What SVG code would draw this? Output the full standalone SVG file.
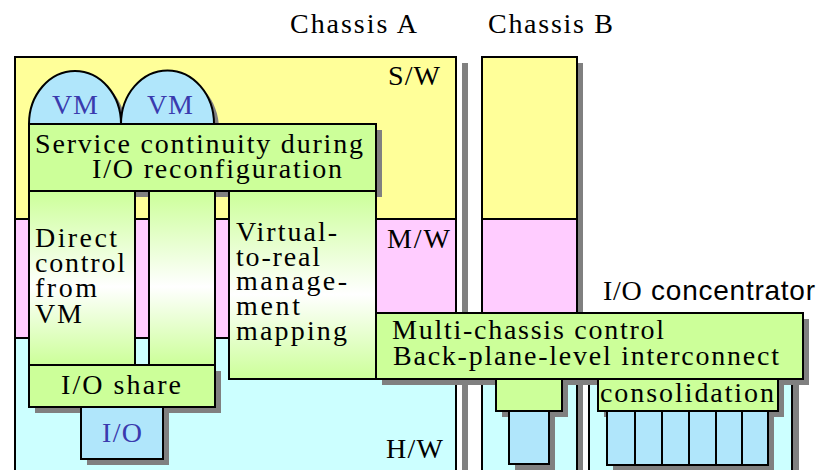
<svg xmlns="http://www.w3.org/2000/svg" width="816" height="470" viewBox="0 0 816 470">
<defs>
<linearGradient id="colg" x1="0" y1="0" x2="0" y2="1">
<stop offset="0" stop-color="#CCFF99"/>
<stop offset="0.55" stop-color="#FFFFFF"/>
<stop offset="1" stop-color="#CCFF99"/>
</linearGradient>
</defs>
<style>
.ln{stroke:#000;stroke-width:2}
.sh{fill:#808080;stroke:none}
.yel{fill:#FFFF99}
.pnk{fill:#FFCCFF}
.cyn{fill:#CCFFFF}
.grn{fill:#CCFF99}
.blu{fill:#B0E6FB}
.col{fill:url(#colg)}
text{font-family:"Liberation Serif","Times New Roman",serif;font-size:28px;fill:#000}
.bt{fill:#3A3AAE}
.sans{font-family:"Liberation Sans","DejaVu Sans",sans-serif}
</style>
<rect width="816" height="470" fill="#FFFFFF"/>

<g id="chassisA">
<rect class="sh" x="462" y="63" width="6" height="410"/>
<rect class="yel ln" x="15" y="57" width="441" height="162"/>
<rect class="pnk ln" x="15" y="219" width="441" height="119"/>
<rect class="cyn ln" x="15" y="338" width="441" height="140"/>
<text x="388" y="85" textLength="52">S/W</text>
<text x="387" y="248" textLength="63">M/W</text>
<text x="386" y="458" textLength="57">H/W</text>
<text x="290" y="33" textLength="127">Chassis A</text>
</g>

<g id="chassisB">
<rect class="sh" x="577" y="63" width="6" height="410"/>
<rect class="yel ln" x="482" y="57" width="95" height="162"/>
<rect class="pnk ln" x="482" y="219" width="95" height="119"/>
<rect class="cyn ln" x="482" y="338" width="95" height="140"/>
<text x="488" y="33" textLength="125">Chassis B</text>
</g>

<g id="ioConcentrator">
<rect class="sh" x="792" y="326" width="7" height="150"/>
<rect class="cyn ln" x="589" y="320" width="203" height="160"/>
<text x="603" y="300" textLength="212">I/O<tspan class="sans"> concentrator</tspan></text>
</g>

<g id="vm1">
<path class="sh" d="M34,129 A46,52 0 0 1 126,129 Z"/>
<path class="blu ln" d="M29,124 A46,53 0 0 1 121,124 Z"/>
<text class="bt" x="52" y="114" textLength="46">VM</text>
</g>
<g id="vm2">
<path class="sh" d="M126,129 A46,52 0 0 1 219,129 Z"/>
<path class="blu ln" d="M121,124 A46,53 0 0 1 214,124 Z"/>
<text class="bt" x="147" y="114" textLength="46">VM</text>
</g>

<g id="serviceContinuity">
<rect class="sh" x="35" y="130" width="347" height="67"/>
<rect class="grn ln" x="29" y="124" width="347" height="67"/>
<text x="35" y="153" textLength="328">Service continuity during</text>
<text x="92" y="178" textLength="250">I/O reconfiguration</text>
</g>

<g id="directControl">
<rect class="col ln" x="29" y="191" width="106" height="174"/>
<text x="35" y="247" textLength="82">Direct</text>
<text x="35" y="272" textLength="90">control</text>
<text x="35" y="297" textLength="62">from</text>
<text x="35" y="323" textLength="47">VM</text>
</g>

<g id="column2">
<rect class="col ln" x="149" y="191" width="66" height="174"/>
</g>

<g id="virtualToReal">
<rect class="col ln" x="229" y="191" width="147" height="188"/>
<text x="236" y="241" textLength="101">Virtual-</text>
<text x="236" y="266" textLength="84">to-real</text>
<text x="236" y="290" textLength="111">manage-</text>
<text x="236" y="315" textLength="64">ment</text>
<text x="236" y="340" textLength="111">mapping</text>
</g>

<g id="ioShare">
<rect class="sh" x="35" y="371" width="186" height="42"/>
<rect class="grn ln" x="29" y="365" width="186" height="42"/>
<text x="61" y="394" textLength="120">I/O share</text>
</g>

<g id="io">
<rect class="sh" x="87" y="413" width="82" height="52"/>
<rect class="blu ln" x="81" y="407" width="82" height="52"/>
<text class="bt" x="102" y="442" textLength="40">I/O</text>
</g>

<g id="multiChassis">
<rect class="sh" x="382" y="319" width="427" height="66"/>
<rect class="grn ln" x="376" y="313" width="427" height="66"/>
<text x="392" y="339" textLength="272">Multi-chassis control</text>
<text x="393" y="365" textLength="386">Back-plane-level interconnect</text>
</g>

<g id="chassisBSwitch">
<rect class="sh" x="502" y="385" width="66" height="32"/>
<rect class="grn ln" x="496" y="379" width="66" height="32"/>
</g>
<g id="chassisBIO">
<rect class="sh" x="515" y="417" width="40" height="53"/>
<rect class="blu ln" x="509" y="411" width="40" height="53"/>
</g>

<g id="consolidation">
<rect class="sh" x="604" y="385" width="180" height="32"/>
<rect class="grn ln" x="598" y="379" width="180" height="32"/>
<text x="600" y="402" textLength="174">consolidation</text>
</g>

<g id="ioSlots">
<rect class="sh" x="613" y="417" width="161" height="54"/>
<rect class="blu ln" x="607" y="411" width="28" height="54"/>
<rect class="blu ln" x="635" y="411" width="27" height="54"/>
<rect class="blu ln" x="662" y="411" width="27" height="54"/>
<rect class="blu ln" x="689" y="411" width="27" height="54"/>
<rect class="blu ln" x="716" y="411" width="26" height="54"/>
<rect class="blu ln" x="742" y="411" width="26" height="54"/>
</g>

<g id="connectors"></g>
</svg>
